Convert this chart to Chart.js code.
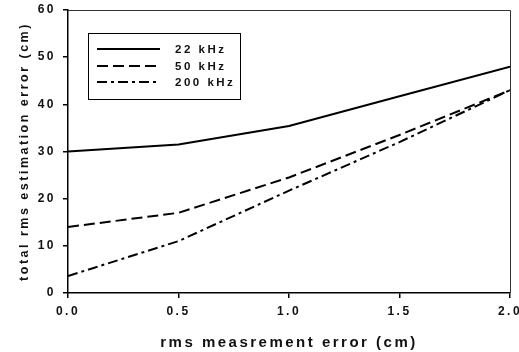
<!DOCTYPE html>
<html>
<head>
<meta charset="utf-8">
<script src="https://cdn.jsdelivr.net/npm/chart.js@4/dist/chart.umd.min.js"></script>
<style>
html,body{margin:0;padding:0;background:#fff;}
canvas{display:block;}
</style>
</head>
<body>
<canvas id="c" width="519" height="352"></canvas>
<script>
// Data
const xValues = [0.0, 0.5, 1.0, 1.5, 2.0];
const seriesNames = ['22 kHz', '50 kHz', '200 kHz'];
const s22 = [30.0, 31.5, 35.4, 41.7, 48.0];
const s50 = [14.0, 17.0, 24.5, 33.5, 43.0];
const s200 = [3.6, 11.0, 21.7, 32.0, 43.0];
const yTicks = [0, 10, 20, 30, 40, 50, 60];

const FONT = '"Liberation Sans", Arial, sans-serif';
const SPACING = '2.5px';

function pts(arr){ return xValues.map((x,i)=>({x:x, y:arr[i]})); }

const dashes = [[], [11,5], [10,4,3,4]];

const spacingPlugin = {
  id: 'spacing',
  beforeLayout(chart){ chart.ctx.letterSpacing = SPACING; },
  beforeDraw(chart){ chart.ctx.letterSpacing = SPACING; },
  afterDraw(chart){
    const ctx = chart.ctx;
    const a = chart.chartArea;
    ctx.save();
    // top & right frame
    ctx.strokeStyle = '#333';
    ctx.lineWidth = 1;
    ctx.beginPath();
    ctx.moveTo(a.left, a.top + 0.5);
    ctx.lineTo(a.right + 0.5, a.top + 0.5);
    ctx.lineTo(a.right + 0.5, a.bottom);
    ctx.stroke();
    // legend box
    ctx.strokeStyle = '#000';
    ctx.lineWidth = 1;
    ctx.strokeRect(88.5, 33.5, 152, 66);
    const rows = [49, 66, 82];
    ctx.font = 'bold 11.5px ' + FONT;
    ctx.letterSpacing = SPACING;
    ctx.fillStyle = '#111';
    ctx.textBaseline = 'middle';
    chart.data.datasets.forEach((ds, i) => {
      ctx.beginPath();
      ctx.lineWidth = 2;
      ctx.strokeStyle = '#000';
      ctx.setLineDash(ds.borderDash || []);
      ctx.moveTo(97, rows[i]);
      ctx.lineTo(160, rows[i]);
      ctx.stroke();
      ctx.setLineDash([]);
      ctx.fillText(ds.label, 175, rows[i] + 1);
    });
    ctx.restore();
  }
};

new Chart(document.getElementById('c'), {
  type: 'line',
  data: {
    datasets: [
      {label: seriesNames[0], data: pts(s22), borderColor:'#000', borderWidth:2, borderDash:dashes[0], pointRadius:0, tension:0, fill:false},
      {label: seriesNames[1], data: pts(s50), borderColor:'#000', borderWidth:2, borderDash:dashes[1], pointRadius:0, tension:0, fill:false},
      {label: seriesNames[2], data: pts(s200), borderColor:'#000', borderWidth:2, borderDash:dashes[2], pointRadius:0, tension:0, fill:false}
    ]
  },
  options: {
    responsive: false,
    animation: false,
    layout: {padding: {top: 10, right: 9, left: 0, bottom: 0}},
    plugins: {legend: {display: false}, tooltip: {enabled: false}},
    scales: {
      x: {
        type: 'linear', min: 0, max: 2,
        afterBuildTicks(scale){ scale.ticks = xValues.map(v=>({value:v})); },
        afterFit(scale){ scale.height = 59; scale.paddingLeft = 0; scale.paddingRight = 0; },
        ticks: {
          callback: v => Number(v).toFixed(1),
          color: '#111', font: {family: FONT, size: 12, weight: 'bold'}, padding: 6, maxRotation: 0
        },
        grid: {display: true, drawOnChartArea: false, drawTicks: true, tickLength: 5, color: '#000', lineWidth: 1.5},
        border: {display: true, color: '#000', width: 1.5},
        title: {display: true, text: 'rms measrement error (cm)', color: '#111',
          font: {family: FONT, size: 15, weight: 'bold'}, padding: {top: 5, bottom: 0}}
      },
      y: {
        min: 0, max: 60,
        afterBuildTicks(scale){ scale.ticks = yTicks.map(v=>({value:v})); },
        afterFit(scale){ scale.width = 68; scale.paddingTop = 0; scale.paddingBottom = 0; },
        ticks: {color: '#111', font: {family: FONT, size: 12, weight: 'bold'}, padding: 7},
        grid: {display: true, drawOnChartArea: false, drawTicks: true, tickLength: 5, color: '#000', lineWidth: 1.5},
        border: {display: true, color: '#000', width: 1.5},
        title: {display: true, text: 'total rms estimation error (cm)', color: '#111',
          font: {family: FONT, size: 12.5, weight: 'bold'}, padding: {top: 17, bottom: 0}}
      }
    }
  },
  plugins: [spacingPlugin]
});
</script>
</body>
</html>
